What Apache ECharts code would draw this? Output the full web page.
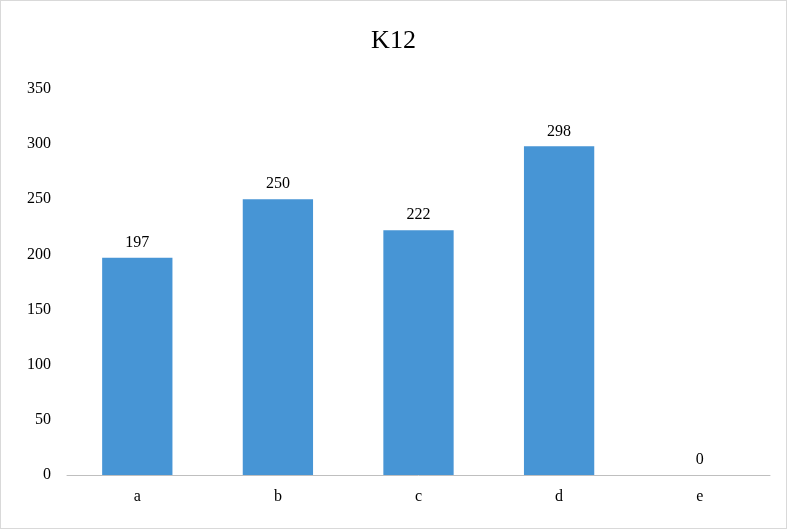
<!DOCTYPE html>
<html><head><meta charset="utf-8">
<script src="https://cdn.jsdelivr.net/npm/echarts@6/dist/echarts.min.js"></script>
<style>html,body{margin:0;padding:0;background:#fff}#c{width:787px;height:529px;box-sizing:border-box;border:1px solid #d9d9d9}</style>
</head><body><div id="c"></div>
<script>
const categories = ['a','b','c','d','e'];
const values = [197, 250, 222, 298, 0];
const title = 'K12';
const chart = echarts.init(document.getElementById('c'));
chart.setOption({
  animation:false,
  title:{text:title,left:'center',top:22,textStyle:{fontFamily:'Liberation Serif',fontSize:26,fontWeight:'normal',color:'#000'}},
  grid:{left:66,right:16,top:88,bottom:53},
  xAxis:{type:'category',data:categories,axisTick:{show:false},axisLine:{lineStyle:{color:'#bfbfbf'}},
    axisLabel:{fontFamily:'Liberation Serif',fontSize:16,color:'#000',margin:14}},
  yAxis:{type:'value',min:0,max:350,interval:50,splitLine:{show:false},axisLine:{show:false},axisTick:{show:false},
    axisLabel:{fontFamily:'Liberation Serif',fontSize:16,color:'#000',margin:16}},
  series:[{type:'bar',data:values,barWidth:'50%',itemStyle:{color:'#4795d5'},
    label:{show:true,position:'top',distance:7,fontFamily:'Liberation Serif',fontSize:16,color:'#000'}}]
});
</script></body></html>
